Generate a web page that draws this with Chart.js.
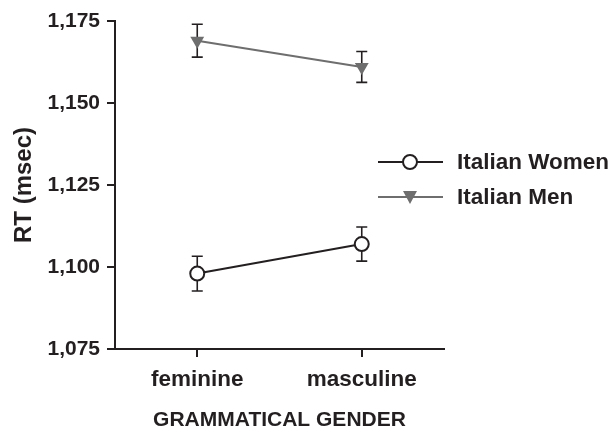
<!DOCTYPE html>
<html>
<head>
<meta charset="utf-8">
<script src="https://cdn.jsdelivr.net/npm/chart.js@4.4.0/dist/chart.umd.min.js"></script>
<style>
  html, body { margin: 0; padding: 0; background: #fff; }
  #wrap { width: 612px; height: 429px; }
</style>
</head>
<body>
<div id="wrap"><canvas id="chart" width="612" height="429"></canvas></div>
<script>
const categories = ["feminine", "masculine"]
const womenRT = [1098, 1107]
const womenErr = [5.3, 5.2]
const menRT = [1169, 1161]
const menErr = [5.0, 4.7]
const yMin = 1075
const yMax = 1175
const yStep = 25

const ink = "#231f20"
const menGray = "#6e6e6e"
const fontFamily = "'Liberation Sans', Arial, Helvetica, sans-serif"

// vertical error bars with caps, drawn under the markers
const errorBars = {
    id: "errorBars",
    beforeDatasetsDraw(chart) {
        const ctx = chart.ctx
        const y = chart.scales.y
        chart.data.datasets.forEach((ds, i) => {
            const meta = chart.getDatasetMeta(i)
            ctx.save()
            ctx.strokeStyle = ink
            ctx.lineWidth = 1.6
            meta.data.forEach((pt, j) => {
                const top = y.getPixelForValue(ds.data[j] + ds.errors[j])
                const bot = y.getPixelForValue(ds.data[j] - ds.errors[j])
                ctx.beginPath()
                ctx.moveTo(pt.x, top)
                ctx.lineTo(pt.x, bot)
                ctx.moveTo(pt.x - 5.5, top)
                ctx.lineTo(pt.x + 5.5, top)
                ctx.moveTo(pt.x - 5.5, bot)
                ctx.lineTo(pt.x + 5.5, bot)
                ctx.stroke()
            })
            ctx.restore()
        })
    }
}

// legend on the right: line + marker + label
const sideLegend = {
    id: "sideLegend",
    afterDraw(chart) {
        const ctx = chart.ctx
        const rows = [162, 197]
        chart.data.datasets.forEach((ds, i) => {
            const yy = rows[i]
            ctx.save()
            ctx.strokeStyle = ds.borderColor
            ctx.lineWidth = 2
            ctx.beginPath()
            ctx.moveTo(378, yy)
            ctx.lineTo(443, yy)
            ctx.stroke()
            const cx = 410
            if (ds.pointStyle === "circle") {
                ctx.beginPath()
                ctx.arc(cx, yy, 7, 0, Math.PI * 2)
                ctx.fillStyle = "#fff"
                ctx.fill()
                ctx.strokeStyle = ink
                ctx.stroke()
            } else {
                ctx.beginPath()
                ctx.moveTo(cx - 7, yy - 6)
                ctx.lineTo(cx + 7, yy - 6)
                ctx.lineTo(cx, yy + 7)
                ctx.closePath()
                ctx.fillStyle = menGray
                ctx.fill()
            }
            ctx.fillStyle = ink
            ctx.font = "bold 22.5px " + fontFamily
            ctx.textAlign = "left"
            ctx.textBaseline = "middle"
            ctx.fillText(ds.label, 457, yy + 1)
            ctx.restore()
        })
    }
}

new Chart(document.getElementById("chart"), {
    type: "line",
    data: {
        labels: categories,
        datasets: [
            {
                label: "Italian Women",
                data: womenRT,
                errors: womenErr,
                borderColor: ink,
                borderWidth: 2,
                pointStyle: "circle",
                pointRadius: 7,
                pointBackgroundColor: "#fff",
                pointBorderColor: ink,
                pointBorderWidth: 2
            },
            {
                label: "Italian Men",
                data: menRT,
                errors: menErr,
                borderColor: menGray,
                borderWidth: 2,
                pointStyle: "triangle",
                rotation: 180,
                pointRadius: 8,
                pointBackgroundColor: menGray,
                pointBorderColor: menGray,
                pointBorderWidth: 0
            }
        ]
    },
    options: {
        responsive: false,
        animation: false,
        layout: { padding: { top: 21, right: 168, bottom: 0, left: 0 } },
        plugins: {
            legend: { display: false },
            tooltip: { enabled: false }
        },
        scales: {
            x: {
                offset: true,
                grid: { drawOnChartArea: false, tickLength: 8, color: ink, lineWidth: 2, offset: false },
                border: { color: ink, width: 2 },
                ticks: { color: ink, padding: 9, font: { family: fontFamily, size: 22.5, weight: "bold" } },
                title: {
                    display: true,
                    text: "GRAMMATICAL GENDER",
                    color: ink,
                    padding: 0,
                    font: { family: fontFamily, size: 21, weight: "bold", lineHeight: 0.8 }
                },
                afterFit(scale) {
                    scale.height = 80
                    scale.paddingLeft = 0
                    scale.paddingRight = 0
                }
            },
            y: {
                min: yMin,
                max: yMax,
                grid: { drawOnChartArea: false, tickLength: 8, color: ink, lineWidth: 2 },
                border: { color: ink, width: 2 },
                ticks: {
                    stepSize: yStep,
                    color: ink,
                    padding: 7,
                    font: { family: fontFamily, size: 21, weight: "bold" },
                    callback: v => v.toLocaleString("en-US")
                },
                title: {
                    display: true,
                    text: "RT (msec)",
                    color: ink,
                    padding: { top: 10, bottom: 0 },
                    font: { family: fontFamily, size: 24, weight: "bold" }
                },
                afterFit(scale) {
                    scale.width = 115
                    scale.paddingTop = 0
                    scale.paddingBottom = 0
                }
            }
        }
    },
    plugins: [errorBars, sideLegend]
})
</script>
</body>
</html>
